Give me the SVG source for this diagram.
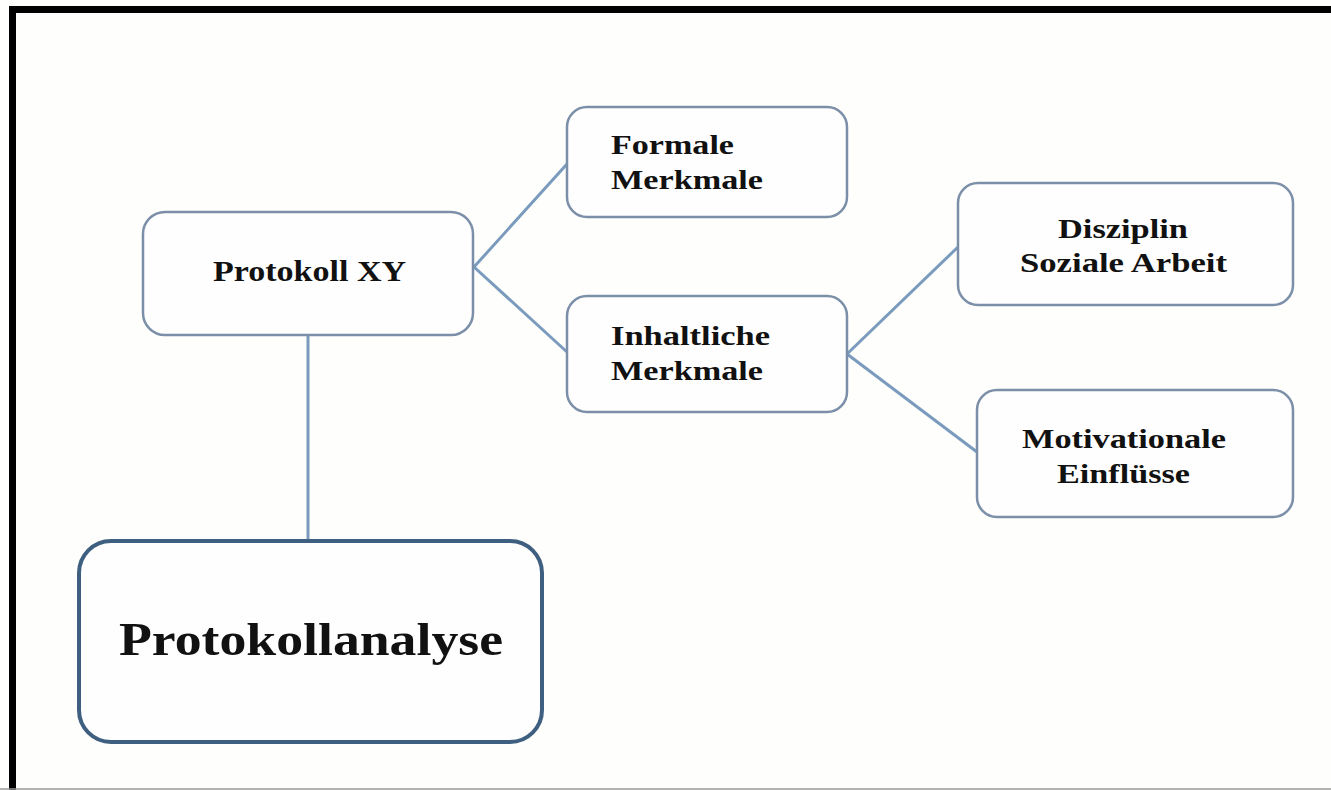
<svg xmlns="http://www.w3.org/2000/svg" width="1331" height="790" viewBox="0 0 1331 790">
<style>
.box{fill:#fefefe;stroke:#7c8fa8;stroke-width:2.5}
.main{fill:#fefefe;stroke:#3f5f80;stroke-width:4}
.t{font-family:"Liberation Serif","Times New Roman",serif;font-weight:bold;font-size:28px;fill:#111}
.conn line{stroke:#7a9bbd;stroke-width:3}
</style>
<rect width="1331" height="790" fill="#fefefc"/>
<path d="M12.5 790 V9.5 H1331" fill="none" stroke="#000" stroke-width="7"/>
<line x1="0" y1="789" x2="1331" y2="789" stroke="#999" stroke-width="1.5"/>
<g class="conn">
<line x1="474" y1="267" x2="567" y2="164"/>
<line x1="474" y1="267" x2="567" y2="352"/>
<line x1="847" y1="354" x2="958" y2="247"/>
<line x1="847" y1="354" x2="977" y2="452"/>
<line x1="308" y1="336" x2="308" y2="541"/>
</g>
<g id="protokoll-xy">
<rect class="box" x="143" y="212" width="330" height="123" rx="22"/>
<text class="t" x="213" y="281" style="font-size:29px" textLength="193" lengthAdjust="spacingAndGlyphs">Protokoll XY</text>
</g>
<g id="formale">
<rect class="box" x="567" y="107" width="280" height="110" rx="20"/>
<text class="t" x="611" y="154" textLength="123" lengthAdjust="spacingAndGlyphs">Formale</text>
<text class="t" x="611" y="189" textLength="152" lengthAdjust="spacingAndGlyphs">Merkmale</text>
</g>
<g id="inhaltliche">
<rect class="box" x="567" y="296" width="280" height="116" rx="20"/>
<text class="t" x="611" y="345" textLength="159" lengthAdjust="spacingAndGlyphs">Inhaltliche</text>
<text class="t" x="611" y="380" textLength="152" lengthAdjust="spacingAndGlyphs">Merkmale</text>
</g>
<g id="disziplin">
<rect class="box" x="958" y="183" width="335" height="122" rx="20"/>
<text class="t" x="1058" y="238" textLength="130" lengthAdjust="spacingAndGlyphs">Disziplin</text>
<text class="t" x="1020" y="272" textLength="207" lengthAdjust="spacingAndGlyphs">Soziale Arbeit</text>
</g>
<g id="motivationale">
<rect class="box" x="977" y="390" width="316" height="127" rx="20"/>
<text class="t" x="1022" y="448" textLength="204" lengthAdjust="spacingAndGlyphs">Motivationale</text>
<text class="t" x="1057" y="483" textLength="133" lengthAdjust="spacingAndGlyphs">Einflüsse</text>
</g>
<g id="protokollanalyse">
<rect class="main" x="79" y="541" width="463" height="201" rx="32"/>
<text class="t" x="119" y="655" style="font-size:46px" textLength="384" lengthAdjust="spacingAndGlyphs">Protokollanalyse</text>
</g>
</svg>
